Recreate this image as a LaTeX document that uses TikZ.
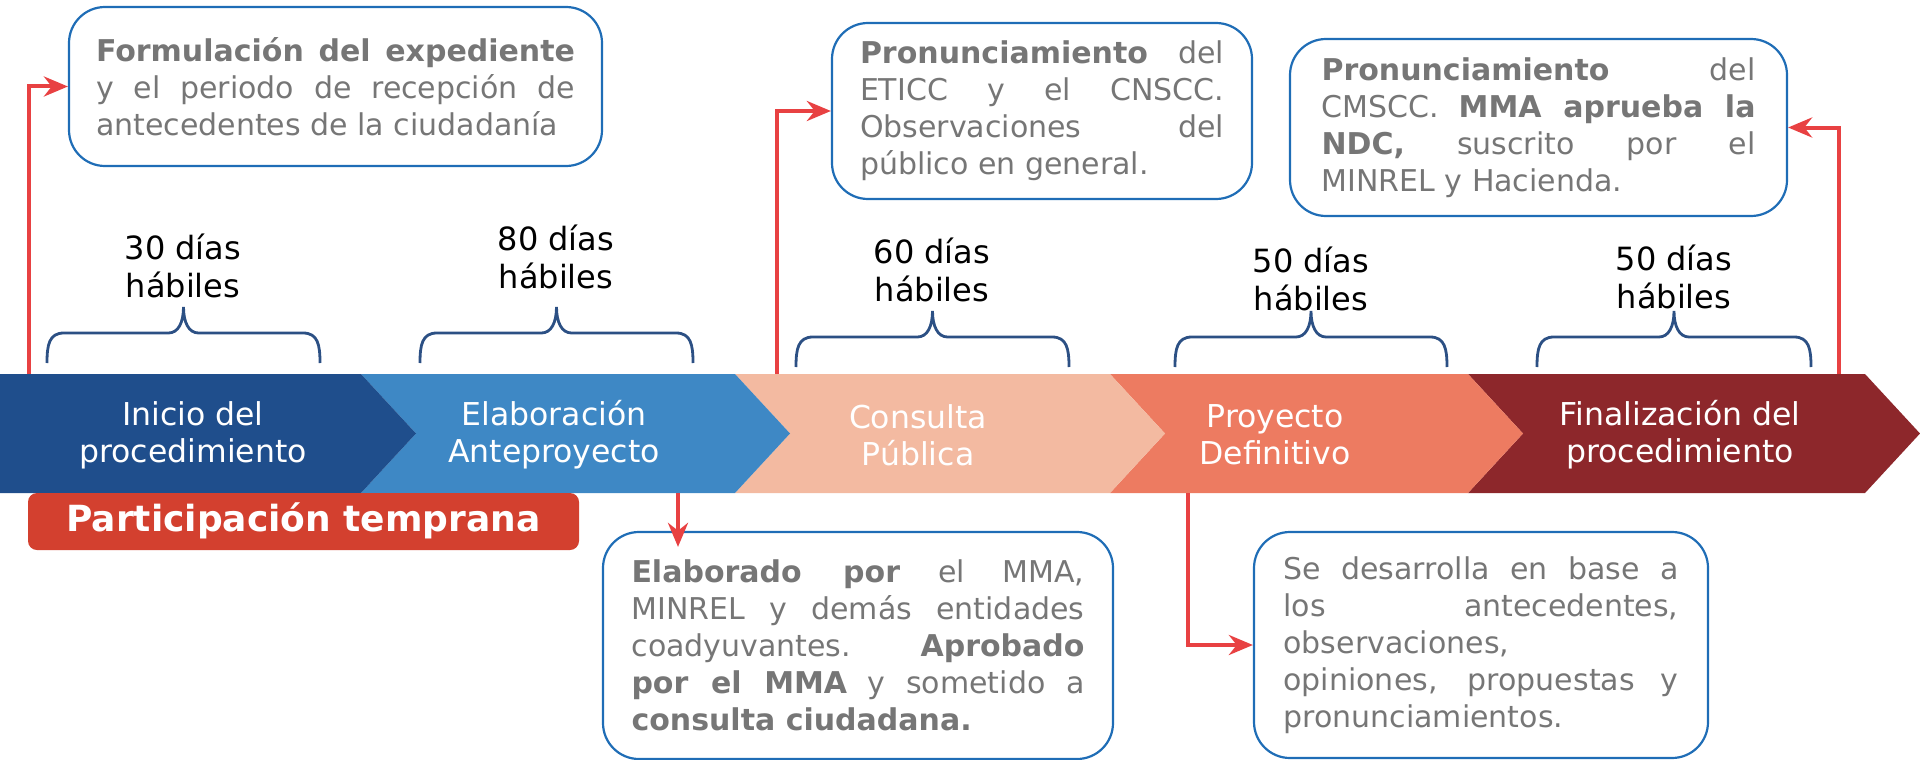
\documentclass[tikz,border=0pt]{standalone}
\usepackage{fontspec}
\setmainfont{DejaVu Sans}
\usepackage{tikz}
\usetikzlibrary{arrows.meta,positioning}

\definecolor{etapaA}{HTML}{1F4E8C}
\definecolor{etapaB}{HTML}{3E88C5}
\definecolor{etapaC}{HTML}{F3BAA1}
\definecolor{etapaD}{HTML}{ED7B61}
\definecolor{etapaE}{HTML}{8D272B}
\definecolor{rojoetiqueta}{HTML}{D3402F}
\definecolor{rojoflecha}{HTML}{E84142}
\definecolor{bordeazul}{HTML}{1F6DB6}
\definecolor{llaveazul}{HTML}{2C5084}
\definecolor{textogris}{HTML}{767676}

% llave de plazo: izquierda, derecha, base
\newcommand{\llaveplazo}[3]{%
  \pgfmathsetmacro\llavemid{(#1+#2)/2}
  \draw[llave] (#1,#3) .. controls (#1,#3-18) and (#1+2,#3-30) .. (#1+17,#3-30)
    -- (\llavemid-15,#3-30) .. controls (\llavemid-5,#3-30) and (\llavemid,#3-41) .. (\llavemid,#3-56)
    .. controls (\llavemid,#3-41) and (\llavemid+5,#3-30) .. (\llavemid+15,#3-30)
    -- (#2-17,#3-30) .. controls (#2-2,#3-30) and (#2,#3-18) .. (#2,#3);
}

\begin{document}
\begin{tikzpicture}[x=1pt,y=-1pt,
  infobox/.style={draw=bordeazul, line width=2.2pt, rounded corners=36pt,
    text=textogris, align=justify, inner sep=0pt,
    font=\fontsize{30}{37}\selectfont},
  link/.style={draw=rojoflecha, line width=4pt, -{Stealth[length=24pt,width=20pt]}},
  llave/.style={draw=llaveazul, line width=2.8pt},
  dias/.style={align=center, font=\fontsize{32}{38}\selectfont},
  etapatxt/.style={text=white, align=center, font=\fontsize{31.5}{37}\selectfont}]
  \useasboundingbox (0,0) rectangle (1920,760);

  % etapas del procedimiento
  \fill[etapaE] (1468,374) -- (1865,374) -- (1920,433.5) -- (1865,493) -- (1468,493) -- (1523,433.5) -- cycle;
  \fill[etapaD] (1110,374) -- (1468,374) -- (1523,433.5) -- (1468,493) -- (1110,493) -- (1165,433.5) -- cycle;
  \fill[etapaC] (735,374) -- (1110,374) -- (1165,433.5) -- (1110,493) -- (735,493) -- (790,433.5) -- cycle;
  \fill[etapaB] (361,374) -- (735,374) -- (790,433.5) -- (735,493) -- (361,493) -- (416,433.5) -- cycle;
  \fill[etapaA] (0,374) -- (361,374) -- (416,433.5) -- (361,493) -- (0,493) -- cycle;

  \node[etapatxt] (inicio) at (193,435) {Inicio del\\procedimiento};
  \node[etapatxt] (elab) at (554,435) {Elaboración\\Anteproyecto};
  \node[etapatxt] (consulta) at (918,435) {Consulta\\Pública};
  \node[etapatxt] (proyecto) at (1275,435) {Proyecto\\Definitivo};
  \node[etapatxt] (final) at (1680,435) {Finalización del\\procedimiento};

  \node[fill=rojoetiqueta, rounded corners=9pt, minimum width=551pt, minimum height=57pt,
    inner sep=0pt, text height=27pt, text depth=7pt, text=white,
    font=\fontsize{36}{40}\selectfont\bfseries] (temprana) at (303.5,521.5) {Participación temprana};

  % plazos
  \llaveplazo{47}{320}{363}
  \llaveplazo{420}{693}{363}
  \llaveplazo{796}{1069}{367}
  \llaveplazo{1175}{1447}{367}
  \llaveplazo{1537}{1811}{367}
  \node[dias] (d30) at (183,266) {30 días\\hábiles};
  \node[dias] (d80) at (556,257) {80 días\\hábiles};
  \node[dias] (d60) at (932,270) {60 días\\hábiles};
  \node[dias] (d50a) at (1311,279) {50 días\\hábiles};
  \node[dias] (d50b) at (1674,277) {50 días\\hábiles};

  % cuadros de detalle
  \node[infobox, text width=479pt, minimum width=533pt, minimum height=159pt] (form) at (335.5,86.5)
    {\textbf{Formulación del expediente}\linebreak y el periodo de recepción de\linebreak antecedentes de la ciudadanía};
  \node[infobox, text width=364pt, minimum width=420pt, minimum height=176pt] (etic) at (1042,111)
    {\textbf{Pronunciamiento} del\linebreak ETICC y el CNSCC.\linebreak Observaciones del\linebreak público en general.};
  \node[infobox, text width=434pt, minimum width=497pt, minimum height=177pt] (cmscc) at (1538.5,127.5)
    {\textbf{Pronunciamiento} del\hspace{16pt}\linebreak CMSCC. \textbf{MMA aprueba la}\linebreak \textbf{NDC,} suscrito por el\linebreak MINREL y Hacienda.};
  \node[infobox, text width=453pt, minimum width=510pt, minimum height=227pt] (elabbox) at (858,645.5)
    {\textbf{Elaborado por} el MMA,\linebreak MINREL y demás entidades\linebreak coadyuvantes. \textbf{Aprobado}\linebreak \textbf{por el MMA} y sometido a\linebreak \textbf{consulta ciudadana.}};
  \node[infobox, text width=395pt, minimum width=454pt, minimum height=226pt] (desa) at (1481,645)
    {Se desarrolla en base a\linebreak los antecedentes,\linebreak observaciones,\linebreak opiniones, propuestas y\linebreak pronunciamientos.};

  % conectores
  \coordinate (s1) at (29,374);
  \coordinate (s2) at (777,374);
  \coordinate (s3) at (1839,374);
  \coordinate (s4) at (678,493);
  \coordinate (s5) at (1188,493);
  \draw[link] (s1) |- (form.west);
  \draw[link] (s2) |- (etic.west);
  \draw[link] (s3) |- (cmscc.east);
  \draw[link] (s4) -- ([yshift=-16pt]s4 |- elabbox.north);
  \draw[link] (s5) |- (desa.west);
\end{tikzpicture}
\end{document}
